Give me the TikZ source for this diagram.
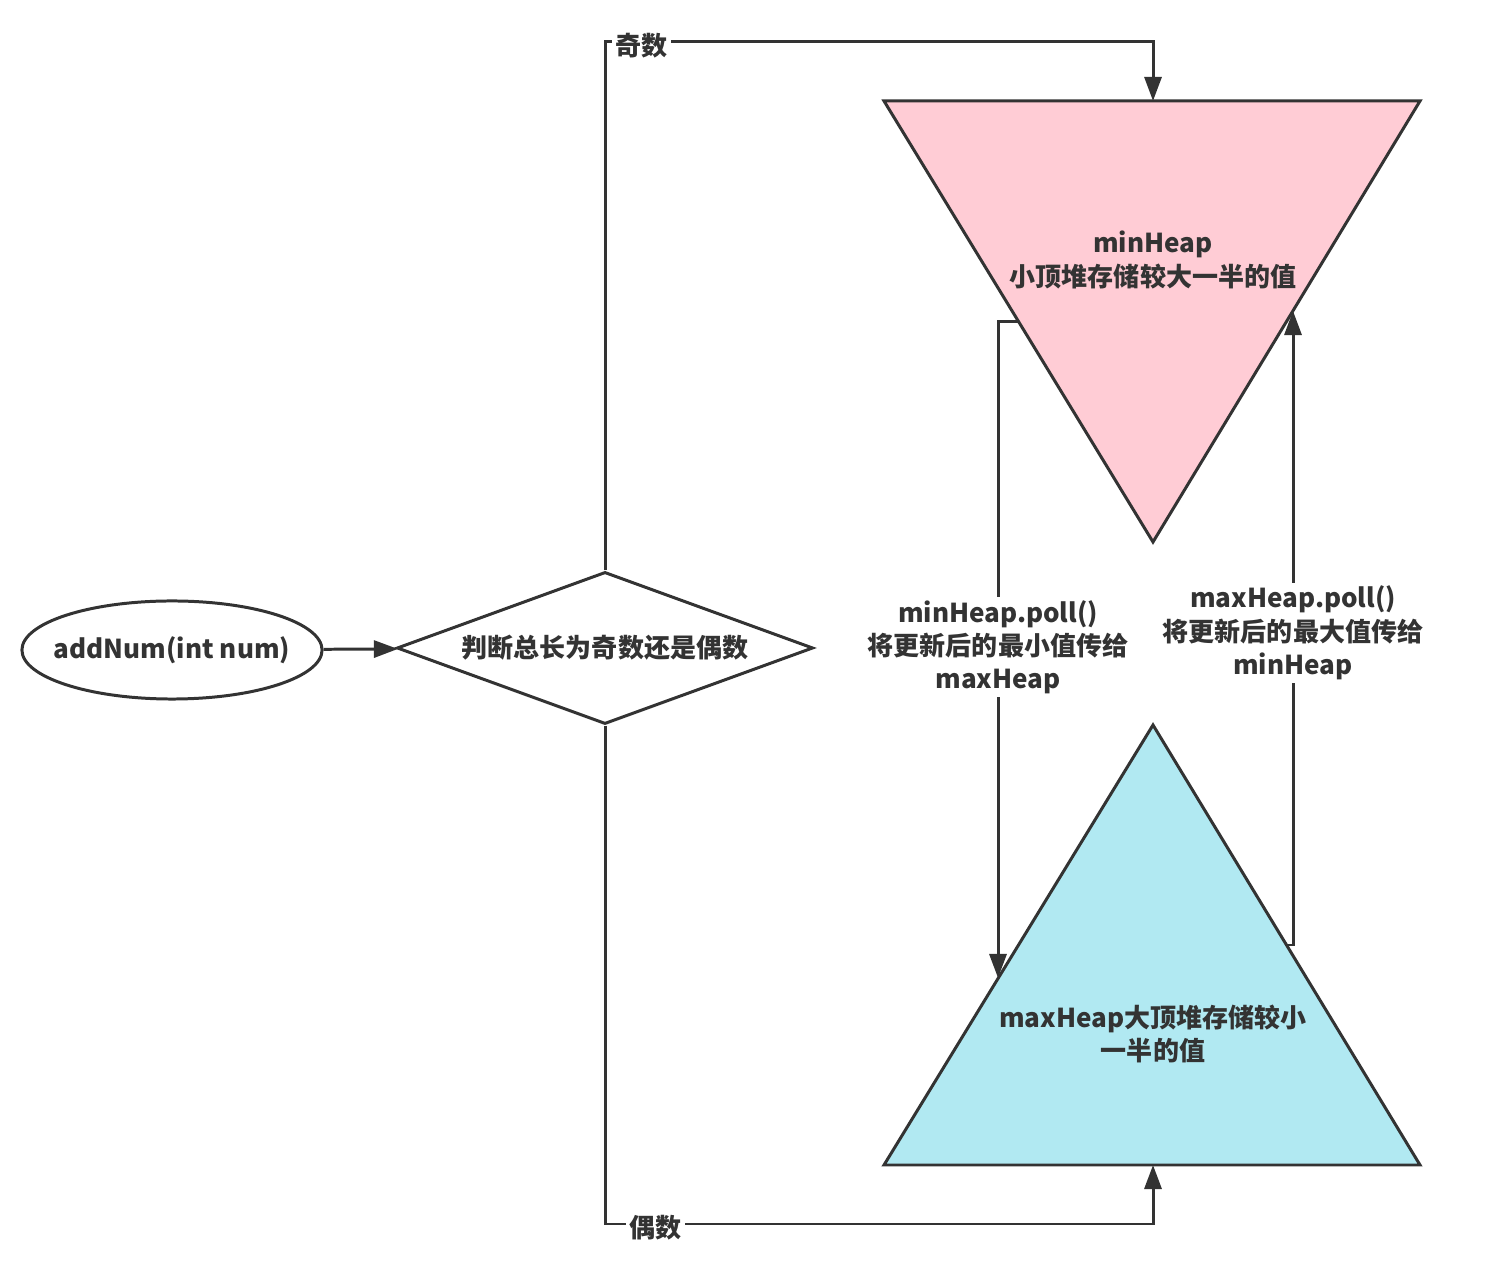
\documentclass[tikz,border=0pt]{standalone}
\usepackage{fontspec}
\setmainfont{Noto Sans CJK SC}
\usetikzlibrary{arrows.meta,shapes.geometric}
\definecolor{linegray}{HTML}{333333}
\definecolor{heappink}{HTML}{FFCCD5}
\definecolor{heapblue}{HTML}{B1E9F2}

\begin{document}
\begin{tikzpicture}[x=0.01cm,y=-0.01cm,line width=0.85pt,draw=linegray,text=linegray,
  >={Triangle[length=0.24cm,width=0.17cm]},
  every node/.style={font=\fontsize{7.4}{9.4}\selectfont\bfseries},
  lbl/.style={fill=white,inner sep=1pt,align=center,yshift=-0.035cm}]
\useasboundingbox (0,0) rectangle (1494,1268);
%[inner sep=1mm]
\path (172,650) node (add) [shape=ellipse,inner xsep=-0.2cm,minimum width=3cm,minimum height=0.98cm,draw] {addNum(int num)};
\path (605,648) node (judge) [shape=diamond,shape aspect=2.74,minimum width=4.16cm,minimum height=1.52cm,inner sep=1pt,draw] {判断总长为奇数还是偶数};

\coordinate (minTL) at (884,101);
\coordinate (minTR) at (1420,101);
\coordinate (minApex) at (1153,542);
\coordinate (maxApex) at (1153,725);
\coordinate (maxBL) at (884,1165);
\coordinate (maxBR) at (1420,1165);
\draw [fill=heappink] (minTL) -- (minTR) -- (minApex) -- cycle;
\draw [fill=heapblue] (maxApex) -- (maxBR) -- (maxBL) -- cycle;
\path (1153,260) node (minheap) [align=center] {minHeap\\小顶堆存储较大一半的值};
\path (1153,1034) node (maxheap) [align=center] {maxHeap大顶堆存储较小\\一半的值};

\coordinate (minTop) at (1153,101);
\coordinate (oddTurn) at (1153,42);
\coordinate (maxBottom) at (1153,1165);
\coordinate (evenTurn) at (1153,1224);
\coordinate (minMidL) at (1018,322);
\coordinate (maxHitL) at (998,978);
\coordinate (maxMidR) at (1286,945);
\coordinate (minHitR) at (1293,311);

\draw [->] (add) -- (judge);
\draw [->] (judge.north) |- node [lbl,pos=0.533] {奇数} (oddTurn) -- (minTop);
\draw [->] (judge.south) |- node [lbl,pos=0.546] {偶数} (evenTurn) -- (maxBottom);
\draw [->] (minMidL) -| node [lbl,pos=0.745] {minHeap.poll()\\将更新后的最小值传给\\maxHeap} (maxHitL);
\draw [->] (maxMidR) -| node [lbl,pos=0.749] {maxHeap.poll()\\将更新后的最大值传给\\minHeap} (minHitR);
\end{tikzpicture}
\end{document}
